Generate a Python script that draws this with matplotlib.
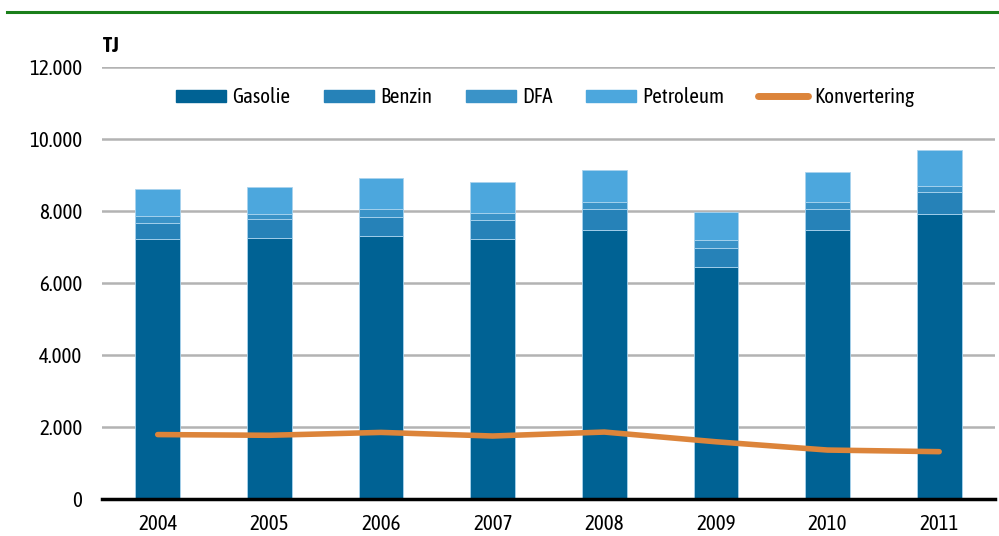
import matplotlib
matplotlib.use("Agg")
import matplotlib.pyplot as plt
from matplotlib.lines import Line2D
import numpy as np

years = ["2004", "2005", "2006", "2007", "2008", "2009", "2010", "2011"]
gasolie = [7215, 7260, 7315, 7215, 7480, 6435, 7465, 7925]
benzin = [460, 520, 530, 535, 565, 545, 585, 595]
dfa = [185, 150, 220, 205, 205, 215, 200, 165]
petroleum = [750, 740, 855, 845, 880, 780, 835, 1000]
konvertering = [1790, 1770, 1850, 1750, 1860, 1590, 1360, 1315]

series = [
    ("Gasolie", gasolie, "#006294"),
    ("Benzin", benzin, "#2682b8"),
    ("DFA", dfa, "#3a93c8"),
    ("Petroleum", petroleum, "#4ca7dd"),
]

plt.rcParams["font.family"] = ["Asap Condensed", "Liberation Sans Narrow", "DejaVu Sans"]

fig = plt.figure(figsize=(9.99, 5.36), dpi=100)
ax = fig.add_axes([0.102, 0.069, 0.894, 0.806])

x = np.arange(len(years))
bottom = np.zeros(len(years))
handles = []
for name, vals, color in series:
    ax.bar(x, vals, width=0.4, bottom=bottom, color=color,
           edgecolor="#a9d3ee", linewidth=0.6, zorder=3, label=name)
    bottom += np.array(vals)
    handles.append(plt.Rectangle((0, 0), 1, 1, color=color))

ax.plot(x, konvertering, color="#dc843a", linewidth=4, zorder=4,
        solid_capstyle="round")
handles.append(Line2D([0], [0], color="#dc843a", linewidth=5,
                      solid_capstyle="round"))

ax.set_xlim(-0.5, 7.5)
ax.set_ylim(0, 12000)
ax.set_yticks(range(0, 12001, 2000))
ax.set_yticklabels([f"{v:,}".replace(",", ".") for v in range(0, 12001, 2000)])
ax.set_xticks(x)
ax.set_xticklabels(years)
ax.tick_params(axis="both", length=0, labelsize=15)
ax.tick_params(axis="x", pad=11)
ax.tick_params(axis="y", pad=14)
ax.yaxis.grid(True, color="#b3b3b3", linewidth=1.8, zorder=0)
for s in ["top", "right", "left"]:
    ax.spines[s].set_visible(False)
ax.spines["bottom"].set_linewidth(2.5)
ax.spines["bottom"].set_color("black")
ax.spines["bottom"].set_zorder(5)

fig.legend(handles, [s[0] for s in series] + ["Konvertering"], ncol=5,
           frameon=False, loc="center left", bbox_to_anchor=(0.176, 0.819),
           fontsize=15, handlelength=2.4, handleheight=0.5,
           columnspacing=1.62, handletextpad=0.3, borderpad=0,
           borderaxespad=0)

fig.text(0.103, 0.915, "TJ", fontsize=15, fontweight="bold", va="center")
fig.add_artist(Line2D([0.007, 1.0], [0.978, 0.978], color="#1a7f1a",
                      linewidth=2.2, transform=fig.transFigure))

fig.savefig("out.png", dpi=100)
